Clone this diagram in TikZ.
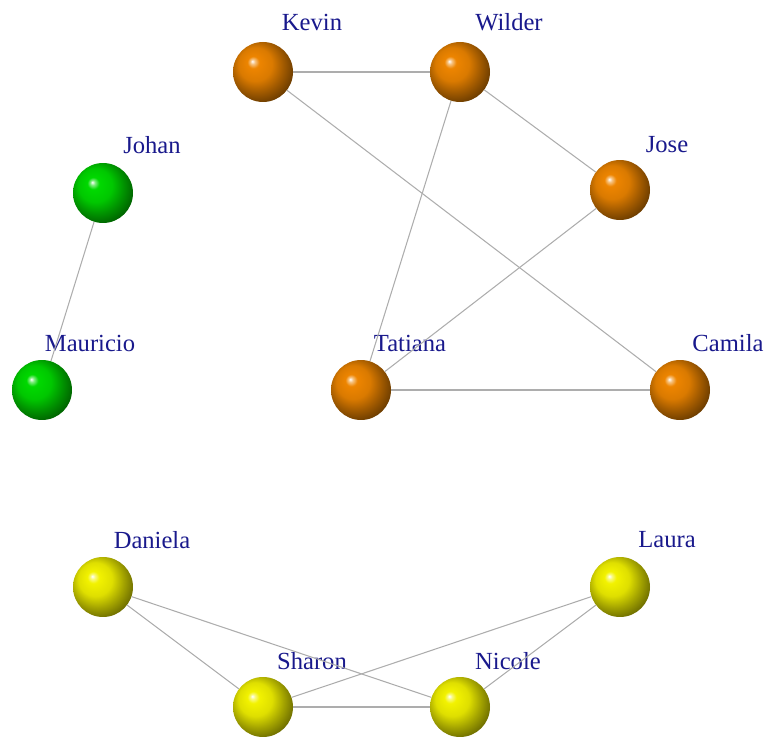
\documentclass[tikz,border=0pt]{standalone}
\usepackage{fontspec}
\setmainfont{Liberation Serif}
\usepackage{tikz}
\definecolor{navy}{rgb}{0.1,0.1,0.55}
\definecolor{ballorange}{rgb}{0.93,0.52,0.0}
\definecolor{ballgreen}{rgb}{0.0,0.85,0.0}
\definecolor{ballyellow}{rgb}{0.95,0.95,0.0}
\definecolor{edgegray}{rgb}{0.68,0.68,0.68}
\colorlet{personcol}{ballorange}
\pgfdeclareradialshading[personcol]{personball}{\pgfqpoint{-9bp}{9bp}}{%
  color(0bp)=(white); color(2bp)=(personcol!50!white); color(5bp)=(personcol);
  color(14bp)=(personcol!92!black); color(22bp)=(personcol!68!black);
  color(30bp)=(personcol!45!black); color(50bp)=(personcol!35!black)}
\tikzset{
  person/.style={circle,minimum size=1.2cm,inner sep=0pt,
    /utils/exec={\colorlet{personcol}{#1}},shade,shading=personball},
  personname/.style={text=navy,font=\fontsize{14}{16}\selectfont},
  tie/.style={edgegray,line width=0.6pt}
}

\begin{document}
\begin{tikzpicture}[x=0.02cm,y=-0.02cm]
\useasboundingbox (0,0) rectangle (770,739);
%\draw[step=50,lightgray,very thin] (0,0) grid (770,739);
% orange group
\node[person=ballorange] (kevin) at (263,72) {};
\node[person=ballorange] (wilder) at (460,72) {};
\node[person=ballorange] (jose) at (620,190) {};
\node[person=ballorange] (tatiana) at (361,390) {};
\node[person=ballorange] (camila) at (680,390) {};
% green group
\node[person=ballgreen] (johan) at (103,193) {};
\node[person=ballgreen] (mauricio) at (42,390) {};
% yellow group
\node[person=ballyellow] (daniela) at (103,587) {};
\node[person=ballyellow] (laura) at (620,587) {};
\node[person=ballyellow] (sharon) at (263,707) {};
\node[person=ballyellow] (nicole) at (460,707) {};
% names
\node[personname] (kevinname) at (312,22) {Kevin};
\node[personname] (wildername) at (509,22) {Wilder};
\node[personname] (josename) at (667,145) {Jose};
\node[personname] (tatiananame) at (410,343) {Tatiana};
\node[personname] (camilaname) at (728,343) {Camila};
\node[personname] (johanname) at (152,145) {Johan};
\node[personname] (mauricioname) at (90,343) {Mauricio};
\node[personname] (danielaname) at (152,540) {Daniela};
\node[personname] (lauraname) at (667,540) {Laura};
\node[personname] (sharonname) at (312,661) {Sharon};
\node[personname] (nicolename) at (508,661) {Nicole};
% ties
\draw[tie] (kevin) -- (wilder);
\draw[tie] (kevin) -- (camila);
\draw[tie] (wilder) -- (jose);
\draw[tie] (wilder) -- (tatiana);
\draw[tie] (jose) -- (tatiana);
\draw[tie] (tatiana) -- (camila);
\draw[tie] (johan) -- (mauricio);
\draw[tie] (daniela) -- (sharon);
\draw[tie] (daniela) -- (nicole);
\draw[tie] (sharon) -- (nicole);
\draw[tie] (sharon) -- (laura);
\draw[tie] (nicole) -- (laura);
\end{tikzpicture}
\end{document}
